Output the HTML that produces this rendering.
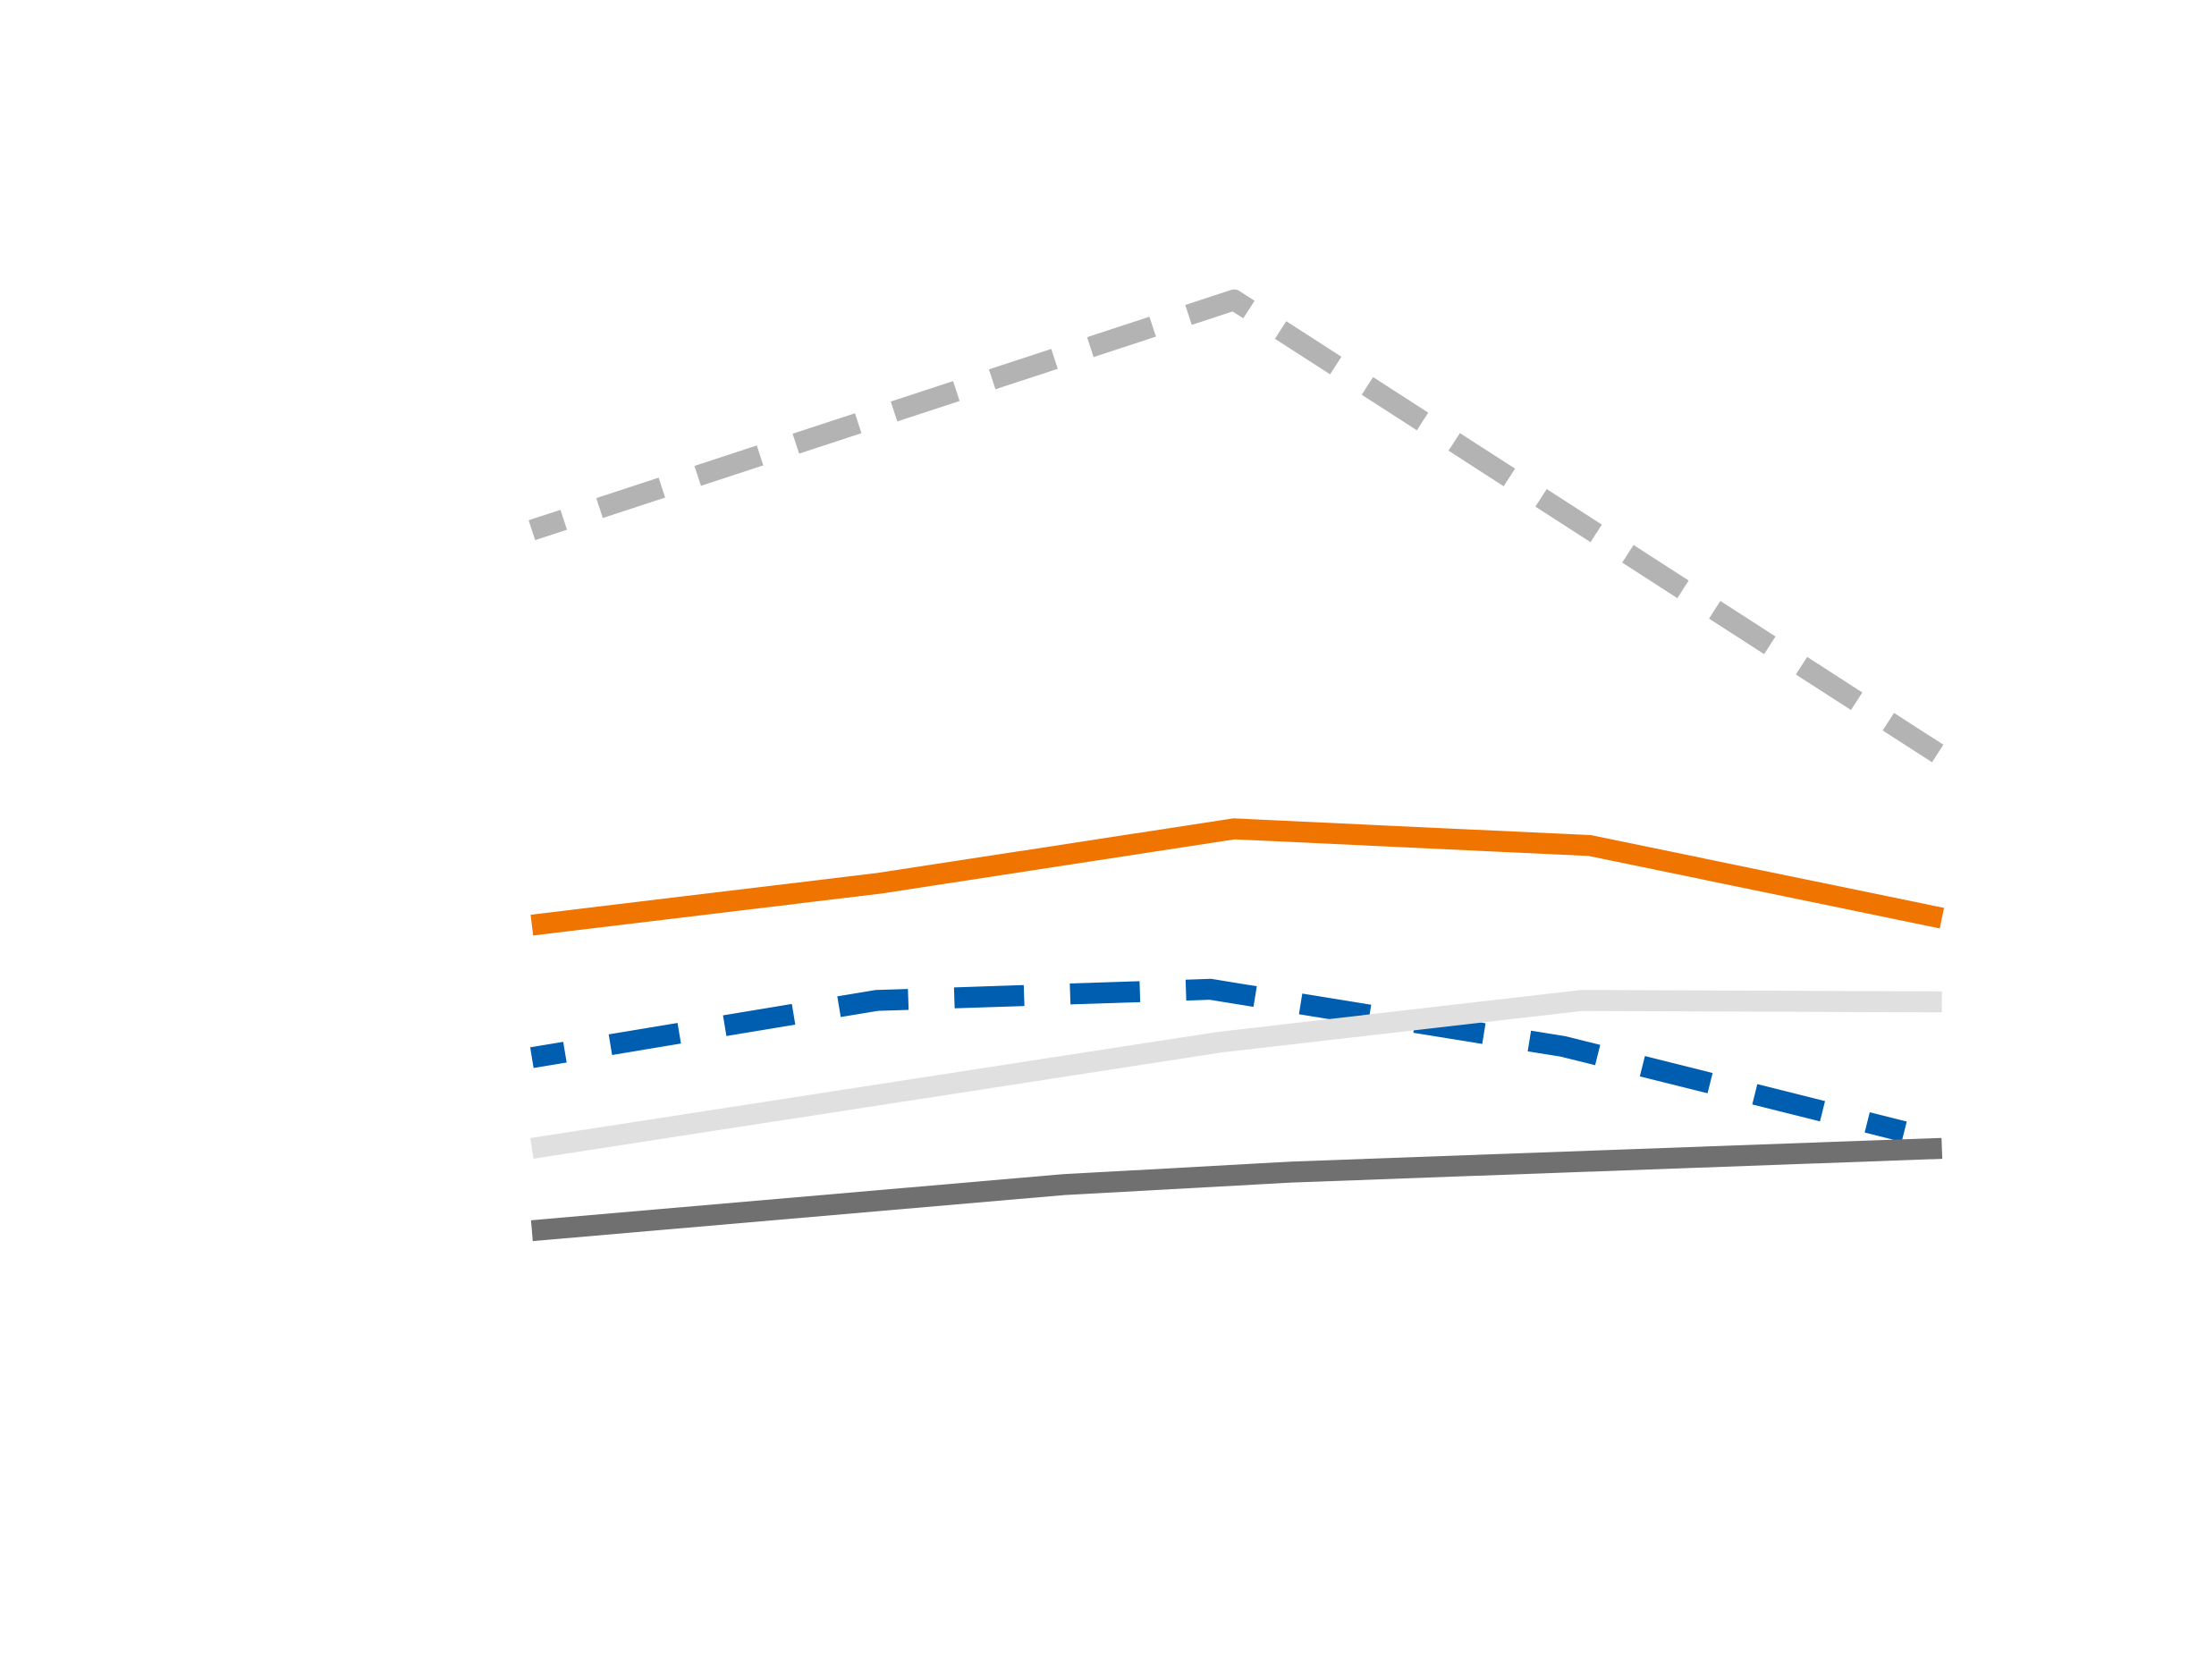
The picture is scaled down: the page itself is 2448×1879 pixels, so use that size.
<!DOCTYPE html>
<html><head><meta charset="utf-8"><style>html,body{margin:0;padding:0;background:#fff}svg{display:block}</style></head>
<body>
<svg width="2448" height="1879" viewBox="0 0 1568 1204" preserveAspectRatio="none" xmlns="http://www.w3.org/2000/svg">
<rect width="1568" height="1204" fill="#fff"/>
<polyline points="381,380 884,215 1388,540" fill="none" stroke="#b3b3b3" stroke-width="15" stroke-dasharray="47,27" stroke-dashoffset="23" stroke-linejoin="round"/>
<polyline points="381,663 630,633 884,594 1139,606 1391,658" fill="none" stroke="#f07400" stroke-width="15"/>
<polyline points="381,758 628,717 867,709 1120,750 1364,811" fill="none" stroke="#005eb0" stroke-width="15" stroke-dasharray="50,33" stroke-dashoffset="26"/>
<polyline points="381,823 873,747 1133,717 1391,718" fill="none" stroke="#e0e0e0" stroke-width="15"/>
<polyline points="381,882 762,849 925,840 1391,823" fill="none" stroke="#707070" stroke-width="15"/>
</svg>
</body></html>
